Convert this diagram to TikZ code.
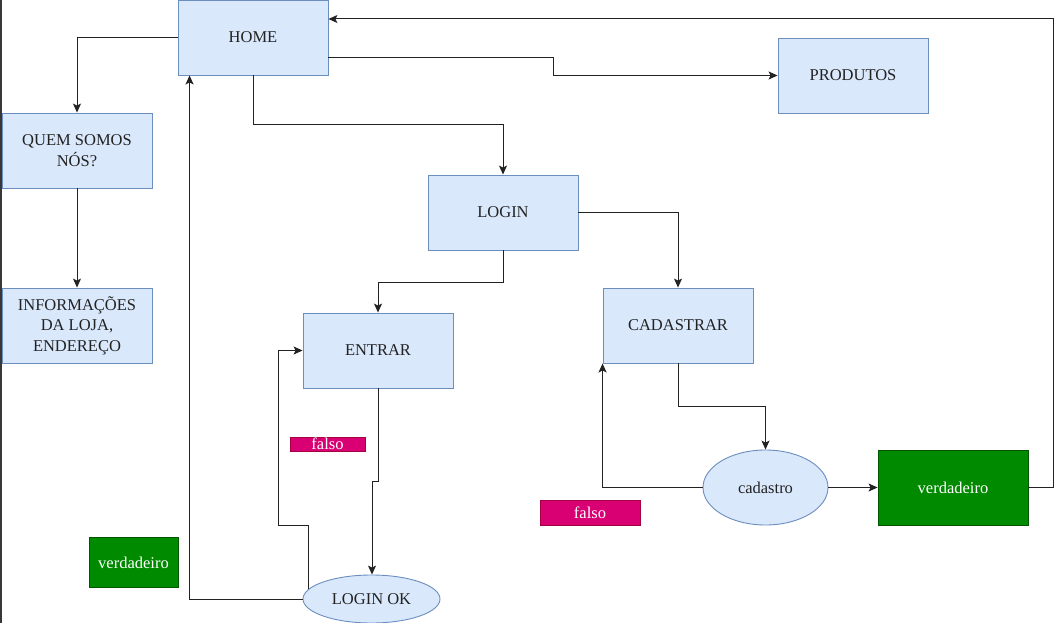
\documentclass[tikz,border=0pt]{standalone}
\usepackage{fontspec}
\setmainfont{Liberation Serif}
\newfontfamily\diagfont{Liberation Serif}
\usetikzlibrary{shapes.geometric,arrows.meta}
\definecolor{bluefill}{HTML}{DAE8FC}
\definecolor{bluedraw}{HTML}{6C8EBF}
\definecolor{greenfill}{HTML}{008A00}
\definecolor{greendraw}{HTML}{005700}
\definecolor{pinkfill}{HTML}{D80073}
\definecolor{pinkdraw}{HTML}{A50040}
\definecolor{txt}{HTML}{222222}
\definecolor{edge}{HTML}{222222}
\tikzset{
  every node/.style={font=\diagfont\fontsize{16.5}{20.5}\selectfont},
  bluebox/.style={rectangle, draw=bluedraw, fill=bluefill, line width=0.9pt, minimum width=150pt, minimum height=75pt, inner sep=0pt, text=txt, align=center},
  blueell/.style={ellipse, draw=bluedraw, fill=bluefill, line width=0.9pt, inner sep=0pt, text=txt},
  greenbox/.style={rectangle, draw=greendraw, fill=greenfill, line width=0.9pt, inner sep=0pt, text=white},
  pinkbox/.style={rectangle, draw=pinkdraw, fill=pinkfill, line width=0.9pt, inner sep=0pt, text=white},
  arr/.style={draw=edge, line width=1pt, -{Stealth[length=9pt,width=8pt,inset=2pt]}}
}
\begin{document}
\begin{tikzpicture}[x=1pt,y=-1pt]
\useasboundingbox (0,0) rectangle (1061,623);
\fill[white] (0,0) rectangle (1061,623);
\fill[black!78] (0,0) rectangle (2,623);

\node[bluebox] (home) at (253,37.5) {HOME};
\node[bluebox] (prod) at (853,75.5) {PRODUTOS};
\node[bluebox] (quem) at (77,150.5) {QUEM SOMOS\\NÓS?};
\node[bluebox] (info) at (77,325.5) {INFORMAÇÕES\\DA LOJA,\\ENDEREÇO};
\node[bluebox] (login) at (503,212.5) {LOGIN};
\node[bluebox] (entrar) at (378,350.5) {ENTRAR};
\node[bluebox] (cad) at (678,325.5) {CADASTRAR};
\node[blueell, minimum width=125pt, minimum height=75pt] (cadastro) at (765.5,487.5) {cadastro};
\node[greenbox, minimum width=150pt, minimum height=75pt] (verd) at (953,487.5) {verdadeiro};
\node[greenbox, minimum width=89pt, minimum height=50pt] (verdl) at (133.5,562.5) {verdadeiro};
\node[pinkbox, minimum width=100pt, minimum height=25pt] (falsor) at (590,512.5) {falso};
\node[pinkbox, minimum width=75pt, minimum height=14pt] (falsol) at (327.5,444) {falso};
\node[blueell, minimum width=137pt, minimum height=48pt] (loginok) at (371.5,599) {LOGIN OK};

\draw[arr] (home.west) -| (quem.north);
\draw[arr] (quem.south) -- (info.north);
\draw[arr] ([yshift=-20pt]home.east) -- (553,57.5) |- (prod.west);
\draw[arr] (home.south) -- (253,125) -| (login.north);
\draw[arr] (login.east) -| (cad.north);
\draw[arr] (login.south) -- (503,282) -| (entrar.north);
\draw[arr] (entrar.south) -- (378,481) -- (372,481) -- (loginok.north -| 372,0);
\draw[arr] (loginok.171) |- (278,525) |- (entrar.west);
\draw[arr] (loginok.west) -| ([xshift=12pt]home.south west);
\draw[arr] (cad.south) -- (678,406) -| (cadastro.north);
\draw[arr] (cadastro.west) -| (cad.south west);
\draw[arr] (cadastro.east) -- (verd.west);
\draw[arr] (verd.east) -- (1053,487.5) |- ([yshift=18.5pt]home.east);
\end{tikzpicture}
\end{document}
